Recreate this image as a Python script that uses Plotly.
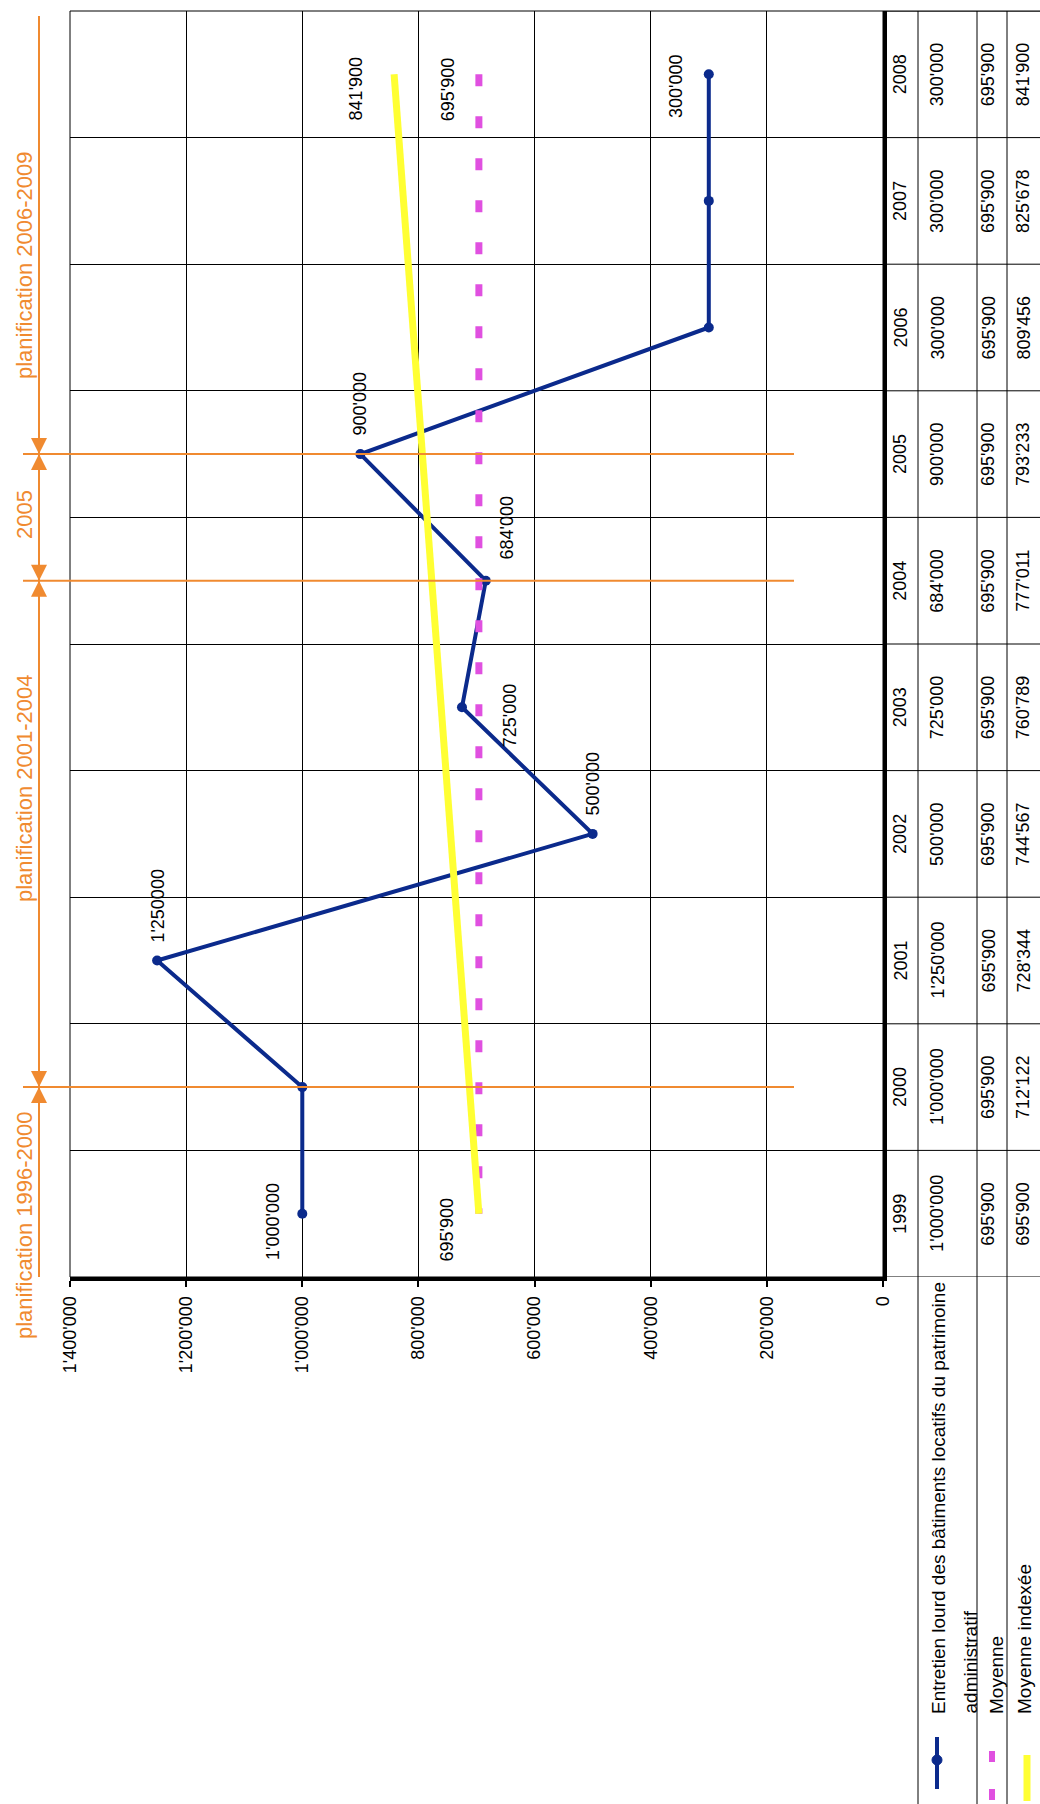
import plotly.graph_objects as go

# ---------------- data ----------------
years = [1999, 2000, 2001, 2002, 2003, 2004, 2005, 2006, 2007, 2008]
entretien = [1000000, 1000000, 1250000, 500000, 725000, 684000, 900000, 300000, 300000, 300000]
moyenne = [695900, 695900, 695900, 695900, 695900, 695900, 695900, 695900, 695900, 695900]
moyenne_indexee = [695900, 712122, 728344, 744567, 760789, 777011, 793233, 809456, 825678, 841900]

entretien_point_labels = ["1'000'000", None, "1'250000", "500'000", "725'000", "684'000",
                          "900'000", None, None, "300'000"]
moyenne_point_labels = [None, None, None, None, None, None, None, None, None, "695'900"]
indexee_point_labels = ["695'900", None, None, None, None, None, None, None, None, "841'900"]

value_ticks = [0, 200000, 400000, 600000, 800000, 1000000, 1200000, 1400000]

series_label_1 = "Entretien lourd des bâtiments locatifs du patrimoine"
series_label_1b = "administratif"
series_label_2 = "Moyenne"
series_label_3 = "Moyenne indexée"

planning_breaks = [2000, 2004, 2005]
planning_labels = ["planification 2006-2009", "2005", "planification 2001-2004", "planification 1996-2000"]


def fmt(v):
    return f"{v:,}".replace(",", "'")


# ---------------- styles / geometry ----------------
W, H = 1040, 1804
L, R, T, B = 70, 883, 11, 1277


def px(x):
    return (x - L) / (R - L)


def py(y):
    return (B - y) / (B - T)


NARROW = "Liberation Sans Narrow, Arial Narrow, Liberation Sans, Arial, sans-serif"
REG = "Liberation Sans, Arial, sans-serif"
FS = 18
NAVY = "#0b2a8c"
MAGENTA = "#e050e0"
YELLOW = "#ffff33"
ORANGE = "#f08a30"

# label offsets (display pixels, dx right, dy down) — style only
entretien_offsets = [(-30, 8), None, (0, -55), (0, -50), (48, 8), (21, -53), (0, -51), None, None, (-32, 12)]
moyenne_offsets = [None] * 9 + [(-31, 15)]
indexee_offsets = [(-32, 16)] + [None] * 8 + [(-38, 14)]

fig = go.Figure()

fig.add_trace(go.Scatter(
    x=entretien, y=years, mode="lines+markers",
    line=dict(color=NAVY, width=4),
    marker=dict(color=NAVY, size=10, symbol="circle"),
    cliponaxis=False, name=series_label_1 + " " + series_label_1b))
fig.add_trace(go.Scatter(
    x=moyenne[::-1], y=years[::-1], mode="lines",
    line=dict(color=MAGENTA, width=7, dash="12px,30px"),
    cliponaxis=False, name=series_label_2))
fig.add_trace(go.Scatter(
    x=moyenne_indexee, y=years, mode="lines",
    line=dict(color=YELLOW, width=7),
    cliponaxis=False, name=series_label_3))

ann = []
lab_font = dict(family=NARROW, size=FS, color="black")

for vals, labels, offs in [(entretien, entretien_point_labels, entretien_offsets),
                           (moyenne, moyenne_point_labels, moyenne_offsets),
                           (moyenne_indexee, indexee_point_labels, indexee_offsets)]:
    for yr, v, t, o in zip(years, vals, labels, offs):
        if t is None:
            continue
        ann.append(dict(x=v, y=yr, xref="x", yref="y", text=t, textangle=-90,
                        showarrow=False, xanchor="center", yanchor="middle",
                        xshift=o[0], yshift=-o[1], font=lab_font))

# data table (years + values)
col_year, col_a, col_b, col_c = 900, 937, 988, 1023
for i, yr in enumerate(years):
    for cx, txt in [(col_year, str(yr)), (col_a, fmt(entretien[i])),
                    (col_b, fmt(moyenne[i])), (col_c, fmt(moyenne_indexee[i]))]:
        ann.append(dict(x=px(cx), y=yr, xref="paper", yref="y", text=txt, textangle=-90,
                        showarrow=False, xanchor="center", yanchor="middle", font=lab_font))

# legend/header texts
leg_font = dict(family=NARROW, size=19, color="black")
for cx, txt in [(938, series_label_1), (970, series_label_1b), (996, series_label_2), (1024, series_label_3)]:
    ann.append(dict(x=px(cx), y=py(1716), xref="paper", yref="paper", text=txt, textangle=-90,
                    showarrow=False, xanchor="center", yanchor="bottom", font=leg_font))

# planning labels (orange)
for cy, txt in zip([265, 515, 788, 1225], planning_labels):
    ann.append(dict(x=px(24), y=py(cy), xref="paper", yref="paper", text=txt, textangle=-90,
                    showarrow=False, xanchor="center", yanchor="middle",
                    font=dict(family=REG, size=22, color=ORANGE)))

# arrowheads on the planning line
for yr in planning_breaks:
    for ay in (-15, 15):
        ann.append(dict(x=px(39), y=yr, xref="paper", yref="y", text="", showarrow=True,
                        ax=0, ay=ay, axref="pixel", ayref="pixel",
                        arrowhead=2, arrowsize=1.6, arrowwidth=2, arrowcolor=ORANGE,
                        standoff=0))

shapes = []
# plot border
shapes.append(dict(type="rect", xref="paper", yref="paper", x0=0, x1=1, y0=0, y1=1,
                   line=dict(color="black", width=1)))
# table lines
shapes.append(dict(type="line", xref="paper", yref="paper", x0=px(R), x1=px(W), y0=1, y1=1,
                   line=dict(color="black", width=1)))
for k in range(11):
    b = years[0] - 0.5 + k
    shapes.append(dict(type="line", xref="paper", yref="y", x0=px(R), x1=px(W), y0=b, y1=b,
                       line=dict(color="black", width=1)))
for cx in (918, 977, 1007):
    shapes.append(dict(type="line", xref="paper", yref="paper", x0=px(cx), x1=px(cx),
                       y0=1, y1=py(H), line=dict(color="black", width=1)))
# orange planning lines
shapes.append(dict(type="line", xref="paper", yref="paper", x0=px(39), x1=px(39),
                   y0=py(16), y1=py(B), line=dict(color=ORANGE, width=2)))
for yr in planning_breaks:
    shapes.append(dict(type="line", xref="paper", yref="y", x0=px(23), x1=px(794),
                       y0=yr, y1=yr, line=dict(color=ORANGE, width=2)))
# legend keys
shapes.append(dict(type="line", xref="paper", yref="paper", x0=px(937), x1=px(937),
                   y0=py(1737), y1=py(1789), line=dict(color=NAVY, width=4)))
shapes.append(dict(type="circle", xref="paper", yref="paper", x0=px(932), x1=px(942),
                   y0=py(1755), y1=py(1765), fillcolor=NAVY, line=dict(color=NAVY, width=1)))
for y0, y1 in [(1751, 1762), (1789, 1800)]:
    shapes.append(dict(type="rect", xref="paper", yref="paper", x0=px(989), x1=px(995),
                       y0=py(y0), y1=py(y1), fillcolor=MAGENTA, line=dict(width=0)))
shapes.append(dict(type="line", xref="paper", yref="paper", x0=px(1027), x1=px(1027),
                   y0=py(1755), y1=py(1801), line=dict(color=YELLOW, width=7)))

fig.update_layout(
    width=W, height=H,
    margin=dict(l=L, r=W - R, t=T, b=H - B, pad=0),
    paper_bgcolor="white", plot_bgcolor="white",
    showlegend=False,
    xaxis=dict(range=[1400000, 0], tickvals=value_ticks, ticktext=[fmt(v) for v in value_ticks],
               tickangle=-90, ticks="outside", ticklen=6, tickwidth=2, tickcolor="black",
               showgrid=True, gridcolor="black", gridwidth=1,
               showline=True, linewidth=4, linecolor="black", zeroline=False,
               tickfont=dict(family=NARROW, size=FS, color="black"), ticklabelstandoff=2),
    yaxis=dict(range=[years[0] - 0.5, years[-1] + 0.5],
               tickvals=[years[0] - 0.5 + k for k in range(11)],
               showticklabels=False, ticks="",
               showgrid=True, gridcolor="black", gridwidth=1,
               showline=True, linewidth=4, linecolor="black", side="right", zeroline=False),
    annotations=ann,
    shapes=shapes,
)

fig.write_html("out.html")
